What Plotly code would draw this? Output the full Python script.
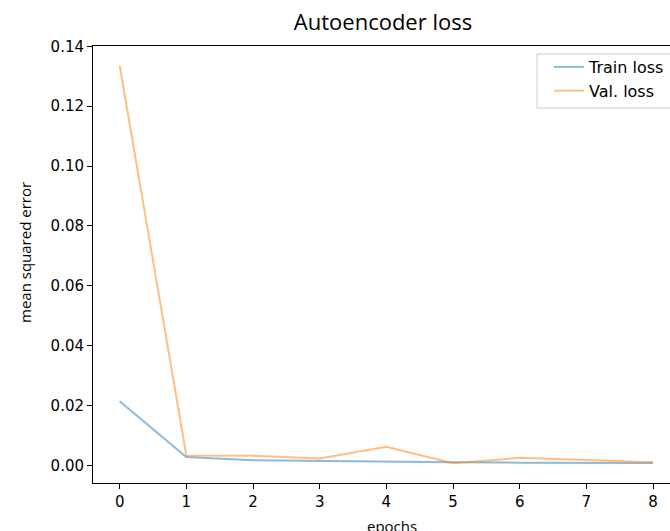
import plotly.graph_objects as go

# Training history of the autoencoder (mean squared error per epoch)
epochs = [0, 1, 2, 3, 4, 5, 6, 7, 8]
train_loss = [0.0214, 0.0028, 0.0017, 0.0014, 0.0012, 0.0010, 0.0009, 0.0009, 0.0008]
val_loss = [0.1336, 0.0033, 0.0032, 0.0023, 0.0062, 0.0007, 0.0025, 0.0018, 0.0010]
y_ticks = [0.00, 0.02, 0.04, 0.06, 0.08, 0.10, 0.12, 0.14]

W, H = 670, 531
L, R, T, B = 93, 0, 46, 48

fig = go.Figure()
fig.add_trace(go.Scatter(x=epochs, y=train_loss, mode="lines", name="Train loss",
                         line=dict(color="#1f77b4", width=2), opacity=0.5))
fig.add_trace(go.Scatter(x=epochs, y=val_loss, mode="lines", name="Val. loss",
                         line=dict(color="#ff7f0e", width=2), opacity=0.5))

axis_common = dict(showgrid=False, zeroline=False, showline=True, linecolor="black",
                   linewidth=1, ticks="outside", ticklen=5, tickwidth=1, tickcolor="black",
                   tickfont=dict(family="DejaVu Sans", size=15, color="black"))

fig.update_xaxes(range=[-0.4, 8.255], tickmode="array", tickvals=epochs,
                 mirror=True, **axis_common)
fig.update_yaxes(range=[-0.0059, 0.1401], tickmode="array", tickvals=y_ticks,
                 tickformat=".2f", **axis_common)

plot_w = W - L - R
plot_h = H - T - B


def px_x(px):
    return (px - L) / plot_w


def px_y(py):
    return (T + plot_h - py) / plot_h


# legend frame (runs past the right edge of the figure)
fig.add_shape(type="rect", xref="paper", yref="paper",
              x0=px_x(537), x1=px_x(700), y0=px_y(108), y1=px_y(54),
              fillcolor="white", line=dict(color="#cccccc", width=1), layer="above")

fig.update_layout(
    width=W, height=H,
    margin=dict(l=L, r=R, t=T, b=B, pad=0),
    paper_bgcolor="white", plot_bgcolor="white",
    title=dict(text="Autoencoder loss", x=383 / W, xref="container", xanchor="center",
               y=1 - 22 / H, yref="container", yanchor="middle",
               font=dict(family="Open Sans", size=22, color="black")),
    legend=dict(x=px_x(549), y=px_y(50),
                xanchor="left", yanchor="top",
                bgcolor="rgba(0,0,0,0)", borderwidth=0,
                font=dict(family="DejaVu Sans", size=16, color="black"),
                tracegroupgap=0),
    showlegend=True,
)

fig.add_annotation(text="mean squared error", textangle=-90, showarrow=False,
                   xref="paper", yref="paper",
                   x=px_x(25), y=px_y(253),
                   xanchor="center", yanchor="middle",
                   font=dict(family="Open Sans", size=15, color="black"))
fig.add_annotation(text="epochs", showarrow=False, xref="paper", yref="paper",
                   x=px_x(392), y=px_y(514),
                   xanchor="center", yanchor="top",
                   font=dict(family="Open Sans", size=15, color="black"))

fig.write_html("out.html")
